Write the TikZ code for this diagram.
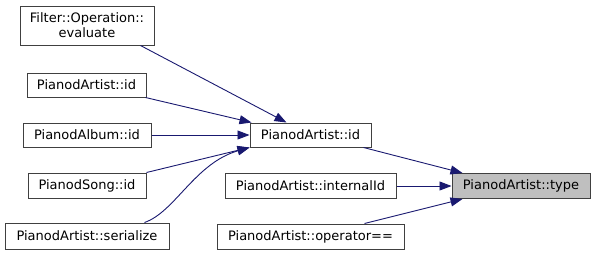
\documentclass[tikz,border=0pt]{standalone}
\usepackage{fontspec}
\setmainfont{DejaVu Sans}
\usetikzlibrary{arrows.meta}
\definecolor{edgeblue}{HTML}{191970}
\definecolor{boxline}{HTML}{404040}
\definecolor{hl}{HTML}{BFBFBF}
\begin{document}
\begin{tikzpicture}[x=1pt,y=-1pt,
  box/.style={draw=boxline,line width=1pt,fill=white,inner sep=0pt,font=\fontsize{13}{15}\selectfont,align=center},
  conn/.style={draw=edgeblue,line width=0.9pt,-{Triangle[length=12pt,width=9pt]}}]
\useasboundingbox (0,0) rectangle (596,255);
\node[box,minimum width=134pt,minimum height=39pt] (filt) at (87,25.5) {Filter::Operation::\\evaluate};
\node[box,minimum width=119pt,minimum height=24pt] (aid) at (86.5,85) {PianodArtist::id};
\node[box,minimum width=128pt,minimum height=24pt] (alb) at (87,135) {PianodAlbum::id};
\node[box,minimum width=118pt,minimum height=25pt] (song) at (87,185.5) {PianodSong::id};
\node[box,minimum width=164pt,minimum height=26pt] (ser) at (87,236) {PianodArtist::serialize};
\node[box,minimum width=121pt,minimum height=24pt] (cid) at (310.5,135) {PianodArtist::id};
\node[box,minimum width=171pt,minimum height=25pt] (iid) at (310.5,186) {PianodArtist::internalId};
\node[box,minimum width=187pt,minimum height=25pt] (op) at (310.5,236.5) {PianodArtist::operator==};
\node[box,fill=hl,minimum width=138pt,minimum height=25pt] (type) at (521,186) {PianodArtist::type};
\draw[conn] ([xshift=-14pt]filt.south east) -- ([xshift=-24pt]cid.north);
\draw[conn] ([xshift=-1pt]aid.south east) -- ([xshift=2pt]cid.north west);
\draw[conn] (alb) -- (cid);
\draw[conn] (song.north east) -- (cid.south west);
\draw[conn] ([xshift=-25pt]ser.north east) .. controls (175,212) and (195,163) .. (cid.south west);
\draw[conn] ([xshift=-8pt]cid.south east) -- ([xshift=11pt]type.north west);
\draw[conn] (iid) -- (type);
\draw[conn] ([xshift=-40pt]op.north east) -- ([xshift=11pt]type.south west);
\end{tikzpicture}
\end{document}
